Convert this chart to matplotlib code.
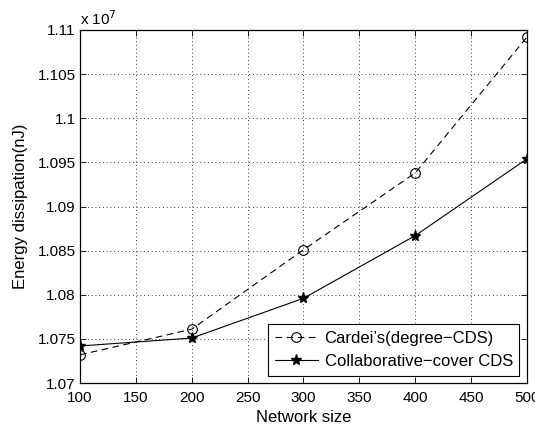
import numpy as np
import matplotlib
matplotlib.use('Agg')
import matplotlib.pyplot as plt
from matplotlib.ticker import FuncFormatter, MultipleLocator

plt.rcParams['font.family'] = ['Liberation Sans', 'DejaVu Sans']

network_size = [100, 200, 300, 400, 500]
cardei = [1.0732e7, 1.0761e7, 1.0851e7, 1.0938e7, 1.1092e7]
collab = [1.0742e7, 1.0751e7, 1.0796e7, 1.0867e7, 1.0954e7]

scale = 1e7

fig = plt.figure(figsize=(5.35, 4.28), dpi=100)
ax = fig.add_axes([0.1495, 0.105, 0.8355, 0.825])

ax.plot(network_size, np.array(cardei) / scale, color='k', lw=0.8,
        linestyle=(0, (6, 4)), marker='o', ms=7, mfc='none', mew=0.8,
        label='Cardei\u2019s(degree\u2212CDS)')
ax.plot(network_size, np.array(collab) / scale, 'k-', lw=0.8,
        marker='*', ms=8, label='Collaborative\u2212cover CDS')

ax.set_xlim(100, 500)
ax.set_ylim(1.07, 1.11)
ax.xaxis.set_major_locator(MultipleLocator(50))
ax.yaxis.set_major_locator(MultipleLocator(0.005))
ax.yaxis.set_major_formatter(FuncFormatter(lambda v, p: ('%.3f' % v).rstrip('0').rstrip('.')))

ax.grid(True, color='k', linestyle=(0, (1, 3.5)), linewidth=0.6)
ax.tick_params(direction='in', top=True, right=True, labelsize=11, length=4, width=0.6)
ax.tick_params(axis='x', pad=6)
ax.tick_params(axis='y', pad=3)
for s in ax.spines.values():
    s.set_linewidth(0.9)

ax.text(0.0, 1.005, r'x 10$^7$', transform=ax.transAxes, fontsize=11, va='bottom')

ax.set_xlabel('Network size', fontsize=12, labelpad=3)
ax.set_ylabel('Energy dissipation(nJ)', fontsize=12, labelpad=7)

leg = ax.legend(loc='lower right', fontsize=12, fancybox=False, edgecolor='k',
                framealpha=1, borderaxespad=0.45, handlelength=2.6,
                borderpad=0.4, labelspacing=0.5, handletextpad=0.4)
leg.get_frame().set_linewidth(0.8)

fig.savefig('out.png', dpi=100)
